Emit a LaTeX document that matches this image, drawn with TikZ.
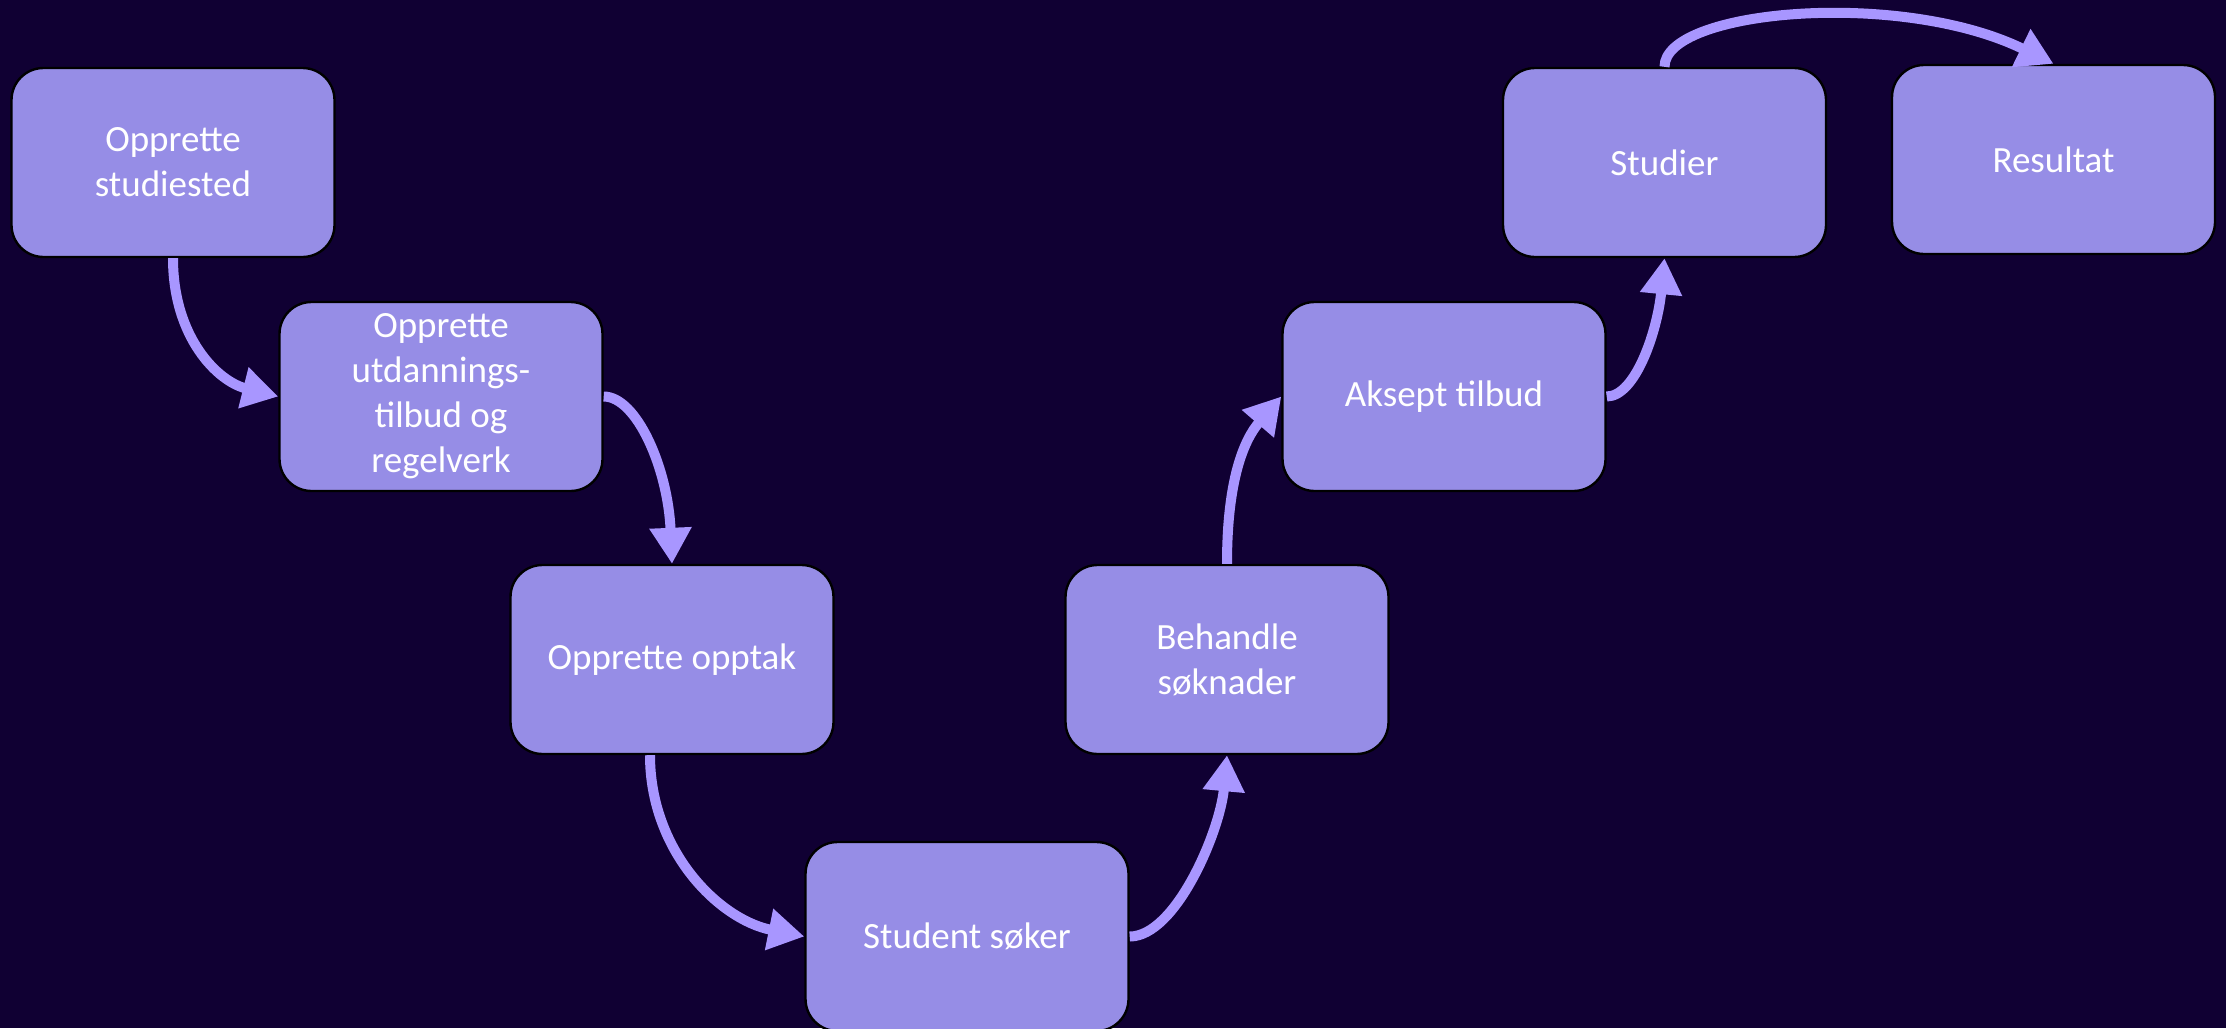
\documentclass[tikz,border=0pt]{standalone}
\usepackage{fontspec}
\setmainfont{Carlito}
\usetikzlibrary{arrows.meta}
\definecolor{bgc}{HTML}{100033}
\definecolor{boxc}{HTML}{968DE6}
\definecolor{arrc}{HTML}{A896FF}
\tikzset{
  stepbox/.style={draw=black, line width=1.2pt, fill=boxc, rounded corners=16pt,
    minimum width=161.5pt, minimum height=94.5pt, inner sep=0pt, align=center,
    text=white, font=\fontsize{18.5}{22.5}\selectfont},
  flow/.style={draw=arrc, line width=5pt, -{Triangle[length=18pt,width=20pt]}}
}
\begin{document}
\begin{tikzpicture}[x=0.5pt,y=-0.5pt]
\fill[bgc] (0,0) rectangle (2226,1028);
\useasboundingbox (0,0) rectangle (2226,1028);
\node[stepbox] (b1) at (173,162.5) {Opprette\\studiested};
\node[stepbox] (b2) at (441,396.5) {Opprette\\utdannings-\\tilbud og\\regelverk};
\node[stepbox] (b3) at (672,659.5) {Opprette opptak};
\node[stepbox] (b4) at (967,936.5) {Student søker};
\node[stepbox] (b5) at (1227,659.5) {Behandle\\søknader};
\node[stepbox] (b6) at (1444,396.5) {Aksept tilbud};
\node[stepbox] (b7) at (1664.5,162.5) {Studier};
\node[stepbox] (b8) at (2053.5,159.5) {Resultat};
\draw[flow] (b1.south) .. controls +(0,80) and +(-60,-15) .. (b2.west);
\draw[flow] (b2.east) .. controls +(33,0) and +(-4,-95) .. (b3.north);
\draw[flow] ([xshift=-11pt]b3.south) .. controls +(0,96) and +(-85,-17) .. (b4.west);
\draw[flow] (b4.east) .. controls +(46,0) and +(-7,76) .. (b5.south);
\draw[flow] (b5.north) .. controls +(0,-85) and +(-37,43) .. (b6.west);
\draw[flow] (b6.east) .. controls +(29,0) and +(-7,72) .. (b7.south);
\draw[flow] (b7.north) .. controls +(0,-57) and +(-154,-75) .. (b8.north);
\end{tikzpicture}
\end{document}
